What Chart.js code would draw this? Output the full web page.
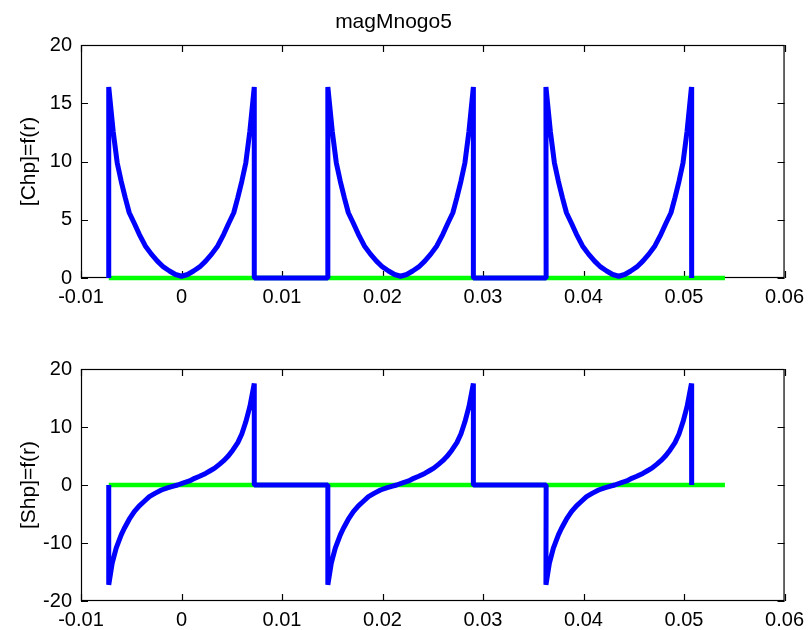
<!DOCTYPE html>
<html>
<head>
<meta charset="utf-8">
<script src="https://cdn.jsdelivr.net/npm/chart.js@4/dist/chart.umd.min.js"></script>
<style>
  body { margin: 0; background: #fff; }
  .box { position: absolute; left: 0; }
</style>
</head>
<body>
<div class="box" style="top:0"><canvas id="topChart" width="811" height="320"></canvas></div>
<div class="box" style="top:320px"><canvas id="bottomChart" width="811" height="310"></canvas></div>
<script>
const FONT = "'Liberation Sans', Arial, sans-serif";

// x ticks shared by both panels
const xTicks = [-0.01, 0, 0.01, 0.02, 0.03, 0.04, 0.05, 0.06];
const xTickLabels = ["-0.01", "0", "0.01", "0.02", "0.03", "0.04", "0.05", "0.06"];
const topYTicks = [0, 5, 10, 15, 20];
const bottomYTicks = [-20, -10, 0, 10, 20];

// three identical cells: left edge, centre, right edge
const cellLeft = [-0.00724, 0.01456, 0.03628];
const cellCentre = [0, 0.0218, 0.0435];
const cellRight = [0.00724, 0.02904, 0.05076];

// one cell of [Chp]=f(r), r measured from the cell centre
const chpR = [-0.00724, -0.0068, -0.0064, -0.006, -0.0056, -0.0052, -0.0047, -0.0042, -0.0036, -0.003, -0.0024, -0.0018, -0.0012, -0.0006, 0,
  0.0006, 0.0012, 0.0018, 0.0024, 0.003, 0.0036, 0.0042, 0.0047, 0.0052, 0.0056, 0.006, 0.0064, 0.0068, 0.00724];
const chpVal = [16.4, 12.6, 9.9, 8.3, 6.9, 5.6, 4.7, 3.75, 2.75, 2.05, 1.45, 0.95, 0.6, 0.3, 0.15,
  0.3, 0.6, 0.95, 1.45, 2.05, 2.75, 3.75, 4.7, 5.6, 6.9, 8.3, 9.9, 12.6, 16.4];

// one cell of [Shp]=f(r)
const shpR = [-0.00724, -0.0069, -0.0065, -0.006, -0.0057, -0.0052, -0.0047, -0.0042, -0.0037, -0.0032, -0.0026, -0.002, -0.0014, -0.0008, -0.0004,
  0.0002, 0.0008, 0.0013, 0.0018, 0.0024, 0.0029, 0.0033, 0.0038, 0.0042, 0.0046, 0.0051, 0.0056, 0.006, 0.0064, 0.0068, 0.00724];
const shpVal = [-17.2, -13.5, -10.9, -8.6, -7.5, -5.9, -4.6, -3.6, -2.8, -2.0, -1.4, -0.86, -0.5, -0.2, 0,
  0.35, 0.7, 1.15, 1.5, 2.0, 2.5, 2.9, 3.6, 4.2, 4.9, 6.0, 7.3, 8.8, 10.9, 13.5, 17.5];

// green reference line
const baseX = [-0.00724, 0.05407];
const baseY = [0, 0];

function cellPath(rs, vals) {
  const pts = [];
  cellCentre.forEach((c, i) => {
    pts.push({ x: cellLeft[i], y: 0 });
    rs.forEach((r, j) => pts.push({ x: c + r, y: vals[j] }));
    pts.push({ x: cellRight[i], y: 0 });
  });
  return pts;
}

// box around the plot plus inward ticks on all four sides
const matlabBox = {
  id: "matlabBox",
  beforeDatasetsDraw(chart) {
    const { ctx, chartArea: a, scales } = chart;
    const tl = 7;
    ctx.save();
    ctx.strokeStyle = "#000";
    ctx.lineWidth = 1.2;
    ctx.strokeRect(a.left + 0.5, a.top + 0.5, a.right - a.left - 1, a.bottom - a.top - 1);
    ctx.beginPath();
    xTicks.forEach(v => {
      const px = Math.round(scales.x.getPixelForValue(v)) + 0.5;
      ctx.moveTo(px, a.bottom); ctx.lineTo(px, a.bottom - tl);
      ctx.moveTo(px, a.top); ctx.lineTo(px, a.top + tl);
    });
    scales.y.ticks.forEach(t => {
      const py = Math.round(scales.y.getPixelForValue(t.value)) + 0.5;
      ctx.moveTo(a.left, py); ctx.lineTo(a.left + tl, py);
      ctx.moveTo(a.right, py); ctx.lineTo(a.right - tl, py);
    });
    ctx.stroke();
    ctx.restore();
  }
};

function makeChart(id, opts) {
  const tickFont = { family: FONT, size: 20 };
  return new Chart(document.getElementById(id), {
    type: "line",
    data: {
      datasets: [
        {
          data: opts.curve,
          borderColor: "#0000ff",
          borderWidth: 5,
          borderJoinStyle: "bevel",
          pointRadius: 0,
          tension: 0,
          clip: false
        },
        {
          data: baseX.map((x, i) => ({ x, y: baseY[i] })),
          borderColor: "#00ff00",
          borderWidth: 4.5,
          pointRadius: 0,
          clip: false
        }
      ]
    },
    options: {
      responsive: false,
      animation: false,
      events: [],
      layout: { padding: { top: opts.padTop, left: 0, right: 24, bottom: 0 } },
      plugins: {
        legend: { display: false },
        tooltip: { enabled: false },
        title: {
          display: !!opts.title,
          text: opts.title,
          color: "#000",
          font: { family: FONT, size: 21, weight: "normal" },
          padding: { top: 10, bottom: 9.8 }
        }
      },
      scales: {
        x: {
          type: "linear",
          min: -0.01,
          max: 0.06,
          afterBuildTicks: s => { s.ticks = xTicks.map(v => ({ value: v })); },
          afterFit: s => { s.height = opts.xHeight; },
          grid: { display: false, drawTicks: false },
          border: { display: false },
          ticks: {
            color: "#000",
            font: tickFont,
            padding: 7,
            maxRotation: 0,
            autoSkip: false,
            callback: (v, i) => xTickLabels[i]
          }
        },
        y: {
          type: "linear",
          min: opts.yTicks[0],
          max: opts.yTicks[opts.yTicks.length - 1],
          afterBuildTicks: s => { s.ticks = opts.yTicks.map(v => ({ value: v })); },
          afterFit: s => { s.width = 81; },
          grid: { display: false, drawTicks: false },
          border: { display: false },
          ticks: {
            color: "#000",
            font: tickFont,
            padding: 9,
            callback: v => String(v)
          },
          title: {
            display: true,
            text: opts.yTitle,
            color: "#000",
            font: { family: FONT, size: 21 },
            padding: { top: 17, bottom: 0 }
          }
        }
      }
    },
    plugins: [matlabBox]
  });
}

makeChart("topChart", {
  curve: cellPath(chpR, chpVal),
  yTicks: topYTicks,
  yTitle: "[Chp]=f(r)",
  title: "magMnogo5",
  padTop: 0,
  xHeight: 42
});

makeChart("bottomChart", {
  curve: cellPath(shpR, shpVal),
  yTicks: bottomYTicks,
  yTitle: "[Shp]=f(r)",
  title: "",
  padTop: 49,
  xHeight: 29
});
</script>
</body>
</html>
